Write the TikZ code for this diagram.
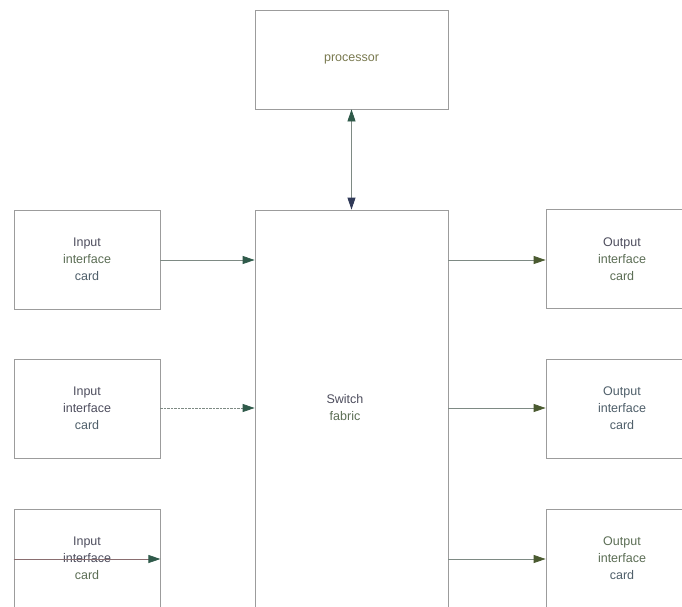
\documentclass[tikz,border=0pt]{standalone}
\usepackage{fontspec}
\setmainfont{Liberation Sans}
\usetikzlibrary{arrows.meta}
\definecolor{boxline}{HTML}{9C9C9C}
\definecolor{wire}{HTML}{7E8A84}
\definecolor{wireB}{HTML}{8A6E70}
\definecolor{headA}{HTML}{2F5A4A}
\definecolor{headB}{HTML}{303A58}
\definecolor{headC}{HTML}{4A5A30}
\definecolor{txtA}{HTML}{4E4E5E}
\definecolor{txtB}{HTML}{5C6E55}
\definecolor{txtC}{HTML}{4F5F6A}
\definecolor{txtP}{HTML}{7A7A50}
\tikzset{
  card/.style={draw=boxline, line width=0.8pt, fill=white, minimum width=146pt,
    minimum height=99pt, inner sep=0pt, align=center, font=\fontsize{12.5}{17}\selectfont},
  outcard/.style={card, minimum width=152pt},
  bigbox/.style={draw=boxline, line width=0.8pt, fill=white, minimum width=193pt, inner sep=0pt},
  txt/.style={align=center, inner sep=0pt, font=\fontsize{12.5}{17}\selectfont},
  link/.style={draw=wire, line width=0.8pt, -{Triangle[length=12pt,width=8pt,fill=headA,color=headA]}},
  outlink/.style={draw=wire, line width=0.8pt, -{Triangle[length=12pt,width=8pt,fill=headC,color=headC]}},
  dotlink/.style={link, dash pattern=on 2.5pt off 1pt},
}
\begin{document}
\begin{tikzpicture}[x=1pt,y=-1pt]
  \useasboundingbox (0,0) rectangle (682,606);
  \clip (0,0) rectangle (682,606);
  \fill[white] (0,0) rectangle (682,606);

  % processor and switch fabric
  \node[bigbox, minimum height=99pt, txt] (proc) at (351.5,59.5) {\color{txtP}processor};
  \node[bigbox, minimum height=404pt] (sw) at (351.5,412) {};
  \node[txt] (swt) at (345,408) {\color{txtA}Switch\\\color{txtB}fabric};

  % input interface cards
  \node[card] (in1) at (87,259.5) {\color{txtA}Input\\\color{txtB}interface\\\color{txtC}card};
  \node[card] (in2) at (87,408.5) {\color{txtA}Input\\\color{txtA}interface\\\color{txtC}card};
  \node[card] (in3) at (87,558.5) {\color{txtA}Input\\\color{txtA}interface\\\color{txtB}card};

  % output interface cards
  \node[outcard] (out1) at (622,259) {\color{txtA}Output\\\color{txtB}interface\\\color{txtB}card};
  \node[outcard] (out2) at (622,408.5) {\color{txtC}Output\\\color{txtC}interface\\\color{txtC}card};
  \node[outcard] (out3) at (622,558.5) {\color{txtB}Output\\\color{txtB}interface\\\color{txtC}card};

  % processor <-> switch fabric
  \draw[draw=wire, line width=0.8pt,
        {Triangle[length=12pt,width=8pt,fill=headA,color=headA]}-{Triangle[length=12pt,width=8pt,fill=headB,color=headB]}]
    (proc.south) -- (sw.north);

  % inputs into the fabric
  \draw[link] (in1.east |- 0,260) -- (sw.west |- 0,260);
  \draw[dotlink] (in2.east |- 0,408) -- (sw.west |- 0,408);
  \coordinate (in3a) at (in3.west |- 0,559);
  \draw[link, draw=wireB] (in3a) -- (in3.east |- 0,559);

  % fabric out to the output cards
  \draw[outlink] (sw.east |- 0,260) -- (out1.west |- 0,260);
  \draw[outlink] (sw.east |- 0,408) -- (out2.west |- 0,408);
  \draw[outlink] (sw.east |- 0,559) -- (out3.west |- 0,559);
\end{tikzpicture}
\end{document}
